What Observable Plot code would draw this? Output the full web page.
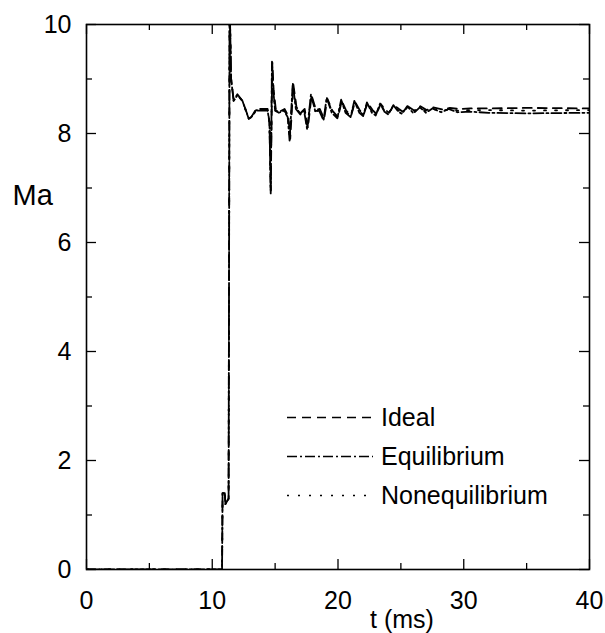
<!DOCTYPE html>
<html><head><meta charset="utf-8">
<script src="https://cdn.jsdelivr.net/npm/d3@7"></script>
<script src="https://cdn.jsdelivr.net/npm/@observablehq/plot@0.6"></script>
<style>
body{margin:0;background:#fff}
#wrap{position:relative;width:605px;height:633px;font-family:"Liberation Sans",Arial,Helvetica,sans-serif}
.leg{position:absolute;left:287px;display:flex;align-items:center;font-size:25px;color:#000;white-space:nowrap;transform:translateY(-50%)}
.leg svg{margin-right:8px}
</style></head>
<body><div id="wrap"></div>
<script>
// ---- data ----
const tIdeal = [0, 10.78, 10.82, 11.0, 11.05, 11.3, 11.38, 11.5, 11.7, 12.0, 12.4, 12.9, 13.1, 13.5, 14.4, 14.55, 14.65, 14.78, 14.88, 15.05, 15.35,
  15.75, 16.05, 16.2, 16.45, 16.7, 17.05, 17.35, 17.6, 17.9, 18.25, 18.55, 18.9, 19.15, 19.55, 20.0, 20.3, 20.65, 21.05, 21.35, 21.75, 22.05, 22.35, 22.75, 23.05, 23.4, 23.75, 24.05, 24.45, 24.85, 25.15, 25.55, 26.05, 26.55, 27.05, 27.55, 28.3, 28.9, 29.6, 30.5, 32, 35, 40];
const maIdeal = [0, 0, 1.4, 1.4, 1.2, 1.3, 10.5, 9.0, 8.62, 8.72, 8.6, 8.28, 8.3, 8.45, 8.45, 8.2, 6.95, 9.3, 8.8, 8.45, 8.4,
  8.45, 8.32, 7.9, 8.9, 8.48, 8.38, 8.45, 8.1, 8.7, 8.43, 8.45, 8.27, 8.64, 8.42, 8.3, 8.6, 8.42, 8.33, 8.58, 8.42, 8.35, 8.56, 8.43, 8.36, 8.54, 8.44, 8.38, 8.52, 8.45, 8.4, 8.5, 8.42, 8.5, 8.43, 8.48, 8.44, 8.47, 8.45, 8.46, 8.46, 8.47, 8.46];

const tEquil = [0, 10.78, 10.82, 11.0, 11.05, 11.3, 11.38, 11.5, 11.7, 12.0, 12.4, 12.9, 13.1, 13.5, 14.4, 14.55, 14.65, 14.75, 14.85, 15.0, 15.3,
  15.7, 16.0, 16.15, 16.4, 16.65, 17.0, 17.3, 17.55, 17.85, 18.2, 18.5, 18.85, 19.1, 19.5, 19.95, 20.25, 20.6, 21.0, 21.3, 21.7, 22.0, 22.3, 22.7, 23.0, 23.35, 23.7, 24.0, 24.4, 24.8, 25.1, 25.5, 26.0, 26.5, 27.0, 27.5, 28.2, 28.8, 29.5, 30.5, 32, 35, 40];
const maEquil = [0, 0, 1.4, 1.4, 1.2, 1.3, 10.5, 9.0, 8.6, 8.7, 8.6, 8.27, 8.3, 8.42, 8.42, 8.2, 6.9, 9.32, 8.8, 8.42, 8.38,
  8.42, 8.3, 7.87, 8.92, 8.45, 8.35, 8.42, 8.07, 8.72, 8.4, 8.42, 8.24, 8.66, 8.38, 8.28, 8.62, 8.38, 8.3, 8.6, 8.38, 8.32, 8.57, 8.38, 8.33, 8.55, 8.4, 8.35, 8.52, 8.4, 8.36, 8.5, 8.37, 8.48, 8.38, 8.46, 8.39, 8.45, 8.39, 8.4, 8.38, 8.37, 8.38];

const tNoneq = [0, 10.78, 10.82, 11.0, 11.05, 11.3, 11.38, 11.5, 11.7, 12.0, 12.4, 12.9, 13.1, 13.5, 14.4, 14.55, 14.65, 14.75, 14.85, 15.0, 15.3,
  15.72, 16.02, 16.17, 16.42, 16.68, 17.02, 17.32, 17.57, 17.87, 18.22, 18.52, 18.87, 19.12, 19.52, 19.97, 20.27, 20.62, 21.02, 21.32, 21.72, 22.02, 22.32, 22.72, 23.02, 23.37, 23.72, 24.02, 24.42, 24.82, 25.12, 25.52, 26.02, 26.52, 27.02, 27.52, 28.25, 28.85, 29.55, 30.5, 32, 35, 40];
const maNoneq = [0, 0, 1.4, 1.4, 1.2, 1.3, 10.5, 9.0, 8.6, 8.7, 8.6, 8.27, 8.3, 8.43, 8.43, 8.2, 6.9, 9.3, 8.8, 8.43, 8.39,
  8.43, 8.31, 7.9, 8.9, 8.46, 8.36, 8.43, 8.1, 8.7, 8.41, 8.43, 8.26, 8.65, 8.4, 8.3, 8.6, 8.4, 8.32, 8.58, 8.4, 8.34, 8.55, 8.4, 8.35, 8.53, 8.41, 8.37, 8.5, 8.42, 8.38, 8.48, 8.4, 8.47, 8.41, 8.45, 8.42, 8.44, 8.42, 8.43, 8.43, 8.42, 8.43];

const xMajor = [0, 10, 20, 30, 40];
const xMinor = [5, 15, 25, 35];
const yMajor = [0, 2, 4, 6, 8, 10];
const yMinor = [1, 3, 5, 7, 9];
const seriesNames = ["Ideal", "Equilibrium", "Nonequilibrium"];
const dashes = ["9,6", "10,3,2,3", "2,9"];
const xLabel = "t (ms)";
const yLabel = "Ma";

// ---- layout ----
const W = 605, H = 633;
const mL = 86, mR = 16, mT = 24, mB = 64;
const FW = W - mL - mR, FH = H - mT - mB;
const font = "Liberation Sans, Arial, Helvetica, sans-serif";

const rows = (ts, ms) => ts.map((t, i) => ({t, ma: ms[i]}));
const dIdeal = rows(tIdeal, maIdeal);
const dEquil = rows(tEquil, maEquil);
const dNoneq = rows(tNoneq, maNoneq);

const chart = Plot.plot({
  width: W, height: H,
  marginLeft: mL, marginRight: mR, marginTop: mT, marginBottom: mB,
  style: {fontFamily: font, background: "#fff", color: "#000"},
  x: {domain: [0, 40]},
  y: {domain: [0, 10]},
  marks: [
    Plot.line(dIdeal, {x: "t", y: "ma", stroke: "#000", strokeWidth: 1.8, strokeDasharray: dashes[0], clip: true}),
    Plot.line(dEquil, {x: "t", y: "ma", stroke: "#000", strokeWidth: 1.8, strokeDasharray: dashes[1], clip: true}),
    Plot.line(dNoneq, {x: "t", y: "ma", stroke: "#000", strokeWidth: 1.8, strokeDasharray: dashes[2], clip: true}),
    // inward ticks on all four sides
    Plot.ruleX(xMajor, {x: d => d, insetTop: FH - 10, stroke: "#000", strokeWidth: 1.3}),
    Plot.ruleX(xMinor, {x: d => d, insetTop: FH - 6, stroke: "#000", strokeWidth: 1.3}),
    Plot.ruleX(xMajor, {x: d => d, insetBottom: FH - 10, stroke: "#000", strokeWidth: 1.3}),
    Plot.ruleX(xMinor, {x: d => d, insetBottom: FH - 6, stroke: "#000", strokeWidth: 1.3}),
    Plot.ruleY(yMajor, {y: d => d, insetRight: FW - 10, stroke: "#000", strokeWidth: 1.3}),
    Plot.ruleY(yMinor, {y: d => d, insetRight: FW - 6, stroke: "#000", strokeWidth: 1.3}),
    Plot.ruleY(yMajor, {y: d => d, insetLeft: FW - 10, stroke: "#000", strokeWidth: 1.3}),
    Plot.ruleY(yMinor, {y: d => d, insetLeft: FW - 6, stroke: "#000", strokeWidth: 1.3}),
    Plot.frame({stroke: "#000", strokeWidth: 1.6}),
    Plot.axisX(xMajor, {tickSize: 0, tickPadding: 22, fontSize: 25, label: null, fill: "#000", tickFormat: d3.format("d")}),
    Plot.axisY(yMajor, {tickSize: 0, tickPadding: 15, fontSize: 25, label: null, fill: "#000", tickFormat: d3.format("d")}),
    Plot.text([yLabel], {text: d => d, frameAnchor: "left", textAnchor: "start", dx: -74, dy: -101, fontSize: 29, fill: "#000"}),
    Plot.text([xLabel], {text: d => d, frameAnchor: "bottom", textAnchor: "middle", lineAnchor: "middle", dx: 64, dy: 50, fontSize: 25, fill: "#000"})
  ]
});

const wrap = document.getElementById("wrap");
wrap.appendChild(chart);

// legend overlay
const legY = [417, 456, 495];
seriesNames.forEach((name, i) => {
  const div = document.createElement("div");
  div.className = "leg";
  div.style.top = legY[i] + "px";
  div.innerHTML = `<svg width="86" height="10"><line x1="0" x2="86" y1="5" y2="5" stroke="#000" stroke-width="1.7" stroke-dasharray="${dashes[i]}"/></svg><span>${name}</span>`;
  wrap.appendChild(div);
});
</script>
</body></html>
